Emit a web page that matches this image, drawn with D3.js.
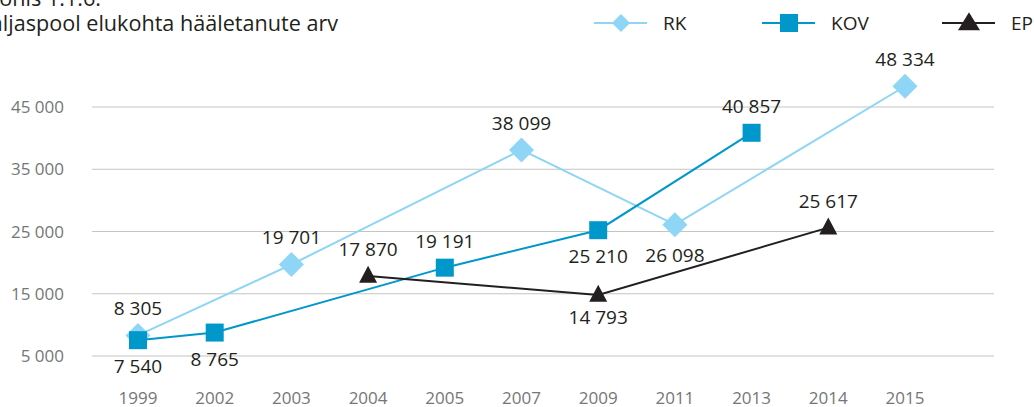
<!DOCTYPE html>
<html>
<head>
<meta charset="utf-8">
<script src="https://cdn.jsdelivr.net/npm/d3@7"></script>
<style>
  body { margin: 0; background: #fff; }
  svg { display: block; font-family: "Open Sans", sans-serif; }
</style>
</head>
<body>
<script>
const years = ["1999", "2002", "2003", "2004", "2005", "2007", "2009", "2011", "2013", "2014", "2015"];
const rkValues = [8305, null, 19701, null, null, 38099, null, 26098, null, null, 48334];
const kovValues = [7540, 8765, null, null, 19191, null, 25210, null, 40857, null, null];
const epValues = [null, null, null, 17870, null, null, 14793, null, null, 25617, null];
const yTicks = [5000, 15000, 25000, 35000, 45000];
// which side of the marker each label sits on, one per non-empty point
const rkLabelSide = ["above", "above", "above", "below", "above"];
const kovLabelSide = ["below", "below", "above", "below", "above"];
const epLabelSide = ["above", "below", "above"];

const width = 1034,
  height = 407;

const svg = d3
  .select("body")
  .append("svg")
  .attr("width", width)
  .attr("height", height);

const x = d3.scalePoint().domain(years).range([138, 905]);
const y = d3.scaleLinear().domain([5000, 45000]).range([356, 107]);

const fmt = v => d3.format(",")(v).replace(/,/g, " ");

// title, cut off at the top-left like the reference
svg
  .append("text")
  .attr("x", 101)
  .attr("y", 6)
  .attr("text-anchor", "end")
  .attr("font-size", 21.6)
  .attr("fill", "#231f20")
  .text("Joonis 1.1.6.");

svg
  .append("text")
  .attr("x", 338)
  .attr("y", 31)
  .attr("text-anchor", "end")
  .attr("font-size", 21.6)
  .attr("fill", "#231f20")
  .text("Väljaspool elukohta hääletanute arv");

// grid + y labels
svg
  .append("g")
  .selectAll("line")
  .data(yTicks)
  .join("line")
  .attr("x1", 92)
  .attr("x2", 994)
  .attr("y1", d => y(d))
  .attr("y2", d => y(d))
  .attr("stroke", "#c4c4c4")
  .attr("stroke-width", 1);

svg
  .append("g")
  .selectAll("text")
  .data(yTicks)
  .join("text")
  .attr("x", 64)
  .attr("y", d => y(d))
  .attr("dy", "0.36em")
  .attr("text-anchor", "end")
  .attr("font-size", 17)
  .attr("fill", "#767676")
  .text(fmt);

svg
  .append("g")
  .selectAll("text")
  .data(years)
  .join("text")
  .attr("x", d => x(d))
  .attr("y", 404)
  .attr("text-anchor", "middle")
  .attr("font-size", 17)
  .attr("fill", "#767676")
  .text(d => d);

const triangle = (w, h) => `M0,${-h * 0.6}L${w / 2},${h * 0.4}L${-w / 2},${h * 0.4}Z`;
const diamond = r => `M0,${-r}L${r},0L0,${r}L${-r},0Z`;
const square = s => `M${-s / 2},${-s / 2}h${s}v${s}h${-s}Z`;

const series = [
  { name: "RK", values: rkValues, sides: rkLabelSide, color: "#8fd5f5", shape: diamond(12.5), legendShape: diamond(9), below: 37 },
  { name: "KOV", values: kovValues, sides: kovLabelSide, color: "#0097cb", shape: square(18), legendShape: square(18), below: 33 },
  { name: "EP", values: epValues, sides: epLabelSide, color: "#231f20", shape: triangle(18, 17), legendShape: triangle(22, 18), below: 29 }
];

const line = d3
  .line()
  .x(d => x(d.year))
  .y(d => y(d.value));

series.forEach(s => {
  const pts = years
    .map((yr, i) => ({ year: yr, value: s.values[i] }))
    .filter(d => d.value != null);

  const g = svg.append("g");

  g.append("path")
    .datum(pts)
    .attr("d", line)
    .attr("fill", "none")
    .attr("stroke", s.color)
    .attr("stroke-width", 2);

  g.selectAll("path.marker")
    .data(pts)
    .join("path")
    .attr("class", "marker")
    .attr("d", s.shape)
    .attr("transform", d => `translate(${x(d.year)},${y(d.value)})`)
    .attr("fill", s.color);

  g.selectAll("text")
    .data(pts)
    .join("text")
    .attr("x", d => x(d.year))
    .attr("y", (d, i) => y(d.value) + (s.sides[i] === "above" ? -20 : s.below))
    .attr("text-anchor", "middle")
    .attr("font-size", 19)
    .attr("fill", "#231f20")
    .text(d => fmt(d.value));
});

// legend
const legendX = [594, 762, 942];
const legend = svg
  .append("g")
  .selectAll("g")
  .data(series)
  .join("g")
  .attr("transform", (d, i) => `translate(${legendX[i]},23)`);

legend
  .append("line")
  .attr("x1", 0)
  .attr("x2", 53)
  .attr("stroke", d => d.color)
  .attr("stroke-width", 2);

legend
  .append("path")
  .attr("d", d => d.legendShape)
  .attr("transform", "translate(27,0)")
  .attr("fill", d => d.color);

legend
  .append("text")
  .attr("x", 69)
  .attr("y", 7)
  .attr("font-size", 19)
  .attr("fill", "#231f20")
  .text(d => d.name);
</script>
</body>
</html>
